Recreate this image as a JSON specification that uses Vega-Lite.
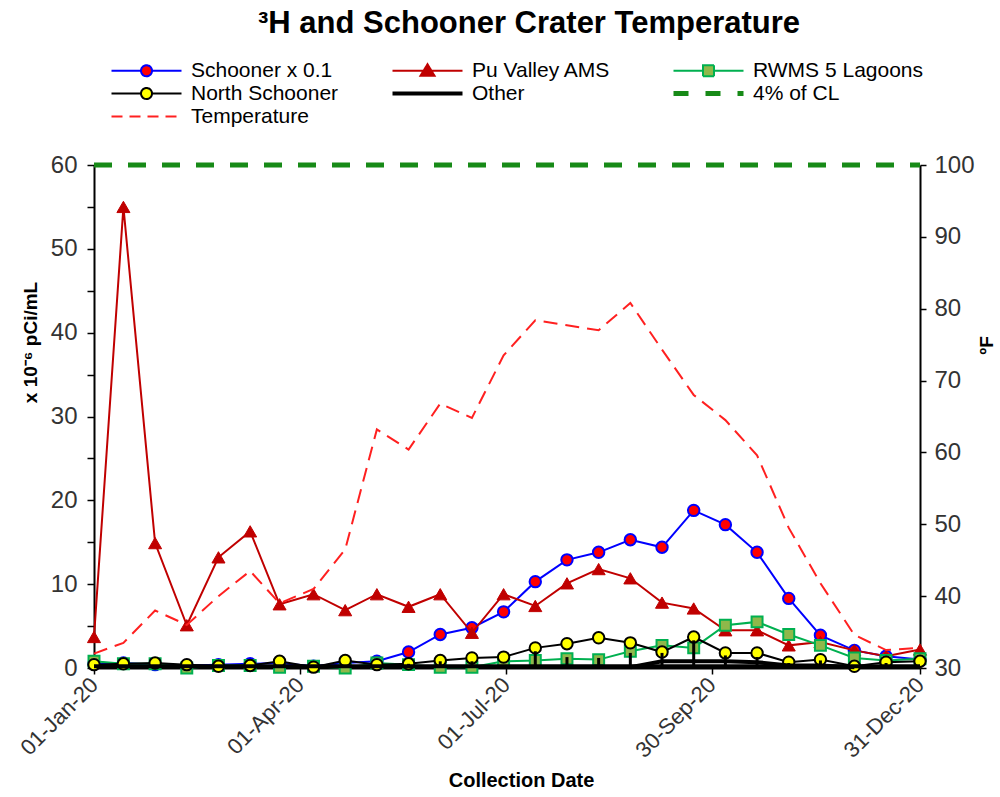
{
  "$schema": "https://vega.github.io/schema/vega-lite/v6.json",
  "width": 826,
  "height": 503,
  "autosize": "none",
  "padding": {"left": 94, "top": 165, "right": 80, "bottom": 129},
  "background": "white",
  "title": {"text": "³H and Schooner Crater Temperature", "fontSize": 31, "fontWeight": "bold", "font": "Liberation Sans", "color": "#000", "anchor": "middle", "dx": 22, "offset": 20},
  "datasets": {
    "legend": [
      {"series": "Schooner x 0.1"}, {"series": "Pu Valley AMS"}, {"series": "RWMS 5 Lagoons"}, {"series": "North Schooner"},
      {"series": "Other"}, {"series": "4% of CL"}, {"series": "Temperature"}
    ],
    "schooner": [
      {"date": "2020-01-01", "value": 0.5}, {"date": "2020-01-14", "value": 0.6}, {"date": "2020-01-28", "value": 0.4},
      {"date": "2020-02-11", "value": 0.3}, {"date": "2020-02-25", "value": 0.4}, {"date": "2020-03-10", "value": 0.5},
      {"date": "2020-03-23", "value": 0.6}, {"date": "2020-04-07", "value": 0.2}, {"date": "2020-04-21", "value": 0.6},
      {"date": "2020-05-05", "value": 0.8}, {"date": "2020-05-19", "value": 1.9}, {"date": "2020-06-02", "value": 4.0},
      {"date": "2020-06-16", "value": 4.8}, {"date": "2020-06-30", "value": 6.7}, {"date": "2020-07-14", "value": 10.3},
      {"date": "2020-07-28", "value": 12.9}, {"date": "2020-08-11", "value": 13.8}, {"date": "2020-08-25", "value": 15.3},
      {"date": "2020-09-08", "value": 14.4}, {"date": "2020-09-22", "value": 18.8}, {"date": "2020-10-06", "value": 17.1},
      {"date": "2020-10-20", "value": 13.8}, {"date": "2020-11-03", "value": 8.3}, {"date": "2020-11-17", "value": 3.9},
      {"date": "2020-12-02", "value": 2.1}, {"date": "2020-12-16", "value": 1.4}, {"date": "2020-12-31", "value": 1.0}
    ],
    "pu": [
      {"date": "2020-01-01", "value": 3.7}, {"date": "2020-01-14", "value": 55.0}, {"date": "2020-01-28", "value": 14.9},
      {"date": "2020-02-11", "value": 5.1}, {"date": "2020-02-25", "value": 13.2}, {"date": "2020-03-10", "value": 16.3},
      {"date": "2020-03-23", "value": 7.6}, {"date": "2020-04-07", "value": 8.8}, {"date": "2020-04-21", "value": 6.9},
      {"date": "2020-05-05", "value": 8.8}, {"date": "2020-05-19", "value": 7.3}, {"date": "2020-06-02", "value": 8.8},
      {"date": "2020-06-16", "value": 4.2}, {"date": "2020-06-30", "value": 8.8}, {"date": "2020-07-14", "value": 7.4},
      {"date": "2020-07-28", "value": 10.1}, {"date": "2020-08-11", "value": 11.8}, {"date": "2020-08-25", "value": 10.7},
      {"date": "2020-09-08", "value": 7.8}, {"date": "2020-09-22", "value": 7.1}, {"date": "2020-10-06", "value": 4.5},
      {"date": "2020-10-20", "value": 4.5}, {"date": "2020-11-03", "value": 2.7}, {"date": "2020-11-17", "value": 3.1},
      {"date": "2020-12-02", "value": 2.1}, {"date": "2020-12-16", "value": 1.4}, {"date": "2020-12-31", "value": 2.2}
    ],
    "rwms": [
      {"date": "2020-01-01", "value": 0.8}, {"date": "2020-01-14", "value": 0.5}, {"date": "2020-01-28", "value": 0.5},
      {"date": "2020-02-11", "value": 0.0}, {"date": "2020-02-25", "value": 0.3}, {"date": "2020-03-10", "value": 0.3},
      {"date": "2020-03-23", "value": 0.1}, {"date": "2020-04-07", "value": 0.2}, {"date": "2020-04-21", "value": 0.0},
      {"date": "2020-05-05", "value": 0.6}, {"date": "2020-05-19", "value": 0.4}, {"date": "2020-06-02", "value": 0.1},
      {"date": "2020-06-16", "value": 0.1}, {"date": "2020-06-30", "value": 0.8}, {"date": "2020-07-14", "value": 0.9},
      {"date": "2020-07-28", "value": 1.1}, {"date": "2020-08-11", "value": 1.0}, {"date": "2020-08-25", "value": 2.0},
      {"date": "2020-09-08", "value": 2.7}, {"date": "2020-09-22", "value": 2.4}, {"date": "2020-10-06", "value": 5.1},
      {"date": "2020-10-20", "value": 5.5}, {"date": "2020-11-03", "value": 4.0}, {"date": "2020-11-17", "value": 2.7},
      {"date": "2020-12-02", "value": 1.2}, {"date": "2020-12-16", "value": 0.9}, {"date": "2020-12-31", "value": 1.1}
    ],
    "north": [
      {"date": "2020-01-01", "value": 0.4}, {"date": "2020-01-14", "value": 0.5}, {"date": "2020-01-28", "value": 0.6},
      {"date": "2020-02-11", "value": 0.4}, {"date": "2020-02-25", "value": 0.2}, {"date": "2020-03-10", "value": 0.3},
      {"date": "2020-03-23", "value": 0.8}, {"date": "2020-04-07", "value": 0.1}, {"date": "2020-04-21", "value": 0.9},
      {"date": "2020-05-05", "value": 0.4}, {"date": "2020-05-19", "value": 0.5}, {"date": "2020-06-02", "value": 0.9},
      {"date": "2020-06-16", "value": 1.2}, {"date": "2020-06-30", "value": 1.3}, {"date": "2020-07-14", "value": 2.4},
      {"date": "2020-07-28", "value": 2.9}, {"date": "2020-08-11", "value": 3.6}, {"date": "2020-08-25", "value": 3.0},
      {"date": "2020-09-08", "value": 1.9}, {"date": "2020-09-22", "value": 3.7}, {"date": "2020-10-06", "value": 1.8},
      {"date": "2020-10-20", "value": 1.8}, {"date": "2020-11-03", "value": 0.7}, {"date": "2020-11-17", "value": 1.0},
      {"date": "2020-12-02", "value": 0.2}, {"date": "2020-12-16", "value": 0.7}, {"date": "2020-12-31", "value": 0.8}
    ],
    "other_base": [
      {"date": "2020-01-01", "value": 0.2}, {"date": "2020-01-14", "value": 0.2}, {"date": "2020-01-28", "value": 0.2},
      {"date": "2020-02-11", "value": 0.2}, {"date": "2020-02-25", "value": 0.2}, {"date": "2020-03-10", "value": 0.2},
      {"date": "2020-03-23", "value": 0.2}, {"date": "2020-04-07", "value": 0.2}, {"date": "2020-04-21", "value": 0.2},
      {"date": "2020-05-05", "value": 0.2}, {"date": "2020-05-19", "value": 0.2}, {"date": "2020-06-02", "value": 0.2},
      {"date": "2020-06-16", "value": 0.2}, {"date": "2020-06-30", "value": 0.2}, {"date": "2020-07-14", "value": 0.2},
      {"date": "2020-07-28", "value": 0.2}, {"date": "2020-08-11", "value": 0.2}, {"date": "2020-08-25", "value": 0.2},
      {"date": "2020-09-08", "value": 0.2}, {"date": "2020-09-22", "value": 0.2}, {"date": "2020-10-06", "value": 0.2},
      {"date": "2020-10-20", "value": 0.2}, {"date": "2020-11-03", "value": 0.2}, {"date": "2020-11-17", "value": 0.2},
      {"date": "2020-12-02", "value": 0.2}, {"date": "2020-12-16", "value": 0.2}, {"date": "2020-12-31", "value": 0.2}
    ],
    "other_late": [
      {"date": "2020-08-25", "value": 0.1}, {"date": "2020-09-08", "value": 0.8}, {"date": "2020-09-22", "value": 0.8},
      {"date": "2020-10-06", "value": 0.8}, {"date": "2020-10-20", "value": 0.7}, {"date": "2020-11-03", "value": 0.3},
      {"date": "2020-11-17", "value": 0.3}, {"date": "2020-12-02", "value": 0.1}
    ],
    "other_bars": [
      {"date": "2020-05-19", "value": 0.5}, {"date": "2020-06-02", "value": 0.8}, {"date": "2020-06-16", "value": 0.8},
      {"date": "2020-07-14", "value": 2.0}, {"date": "2020-07-28", "value": 1.3}, {"date": "2020-08-11", "value": 1.2},
      {"date": "2020-08-25", "value": 1.8}, {"date": "2020-09-08", "value": 1.8}, {"date": "2020-09-22", "value": 3.3},
      {"date": "2020-10-06", "value": 1.5}, {"date": "2020-10-20", "value": 1.3}, {"date": "2020-11-03", "value": 0.6},
      {"date": "2020-11-17", "value": 0.9}, {"date": "2020-12-16", "value": 0.6}
    ],
    "cl": [
      {"date": "2020-01-01", "value": 60}, {"date": "2020-12-31", "value": 60}
    ],
    "temp": [
      {"date": "2020-01-01", "value": 32.0}, {"date": "2020-01-14", "value": 33.5}, {"date": "2020-01-28", "value": 38.0},
      {"date": "2020-02-11", "value": 36.0}, {"date": "2020-02-25", "value": 40.0}, {"date": "2020-03-10", "value": 43.5},
      {"date": "2020-03-23", "value": 39.0}, {"date": "2020-04-07", "value": 41.0}, {"date": "2020-04-21", "value": 46.5},
      {"date": "2020-05-05", "value": 63.2}, {"date": "2020-05-19", "value": 60.4}, {"date": "2020-06-02", "value": 66.8},
      {"date": "2020-06-16", "value": 64.8}, {"date": "2020-06-30", "value": 73.5}, {"date": "2020-07-14", "value": 78.4},
      {"date": "2020-07-28", "value": 77.7}, {"date": "2020-08-11", "value": 77.0}, {"date": "2020-08-25", "value": 80.8},
      {"date": "2020-09-08", "value": 74.3}, {"date": "2020-09-22", "value": 68.0}, {"date": "2020-10-06", "value": 64.5},
      {"date": "2020-10-20", "value": 59.6}, {"date": "2020-11-03", "value": 49.5}, {"date": "2020-11-17", "value": 41.8},
      {"date": "2020-12-02", "value": 34.6}, {"date": "2020-12-16", "value": 32.5}, {"date": "2020-12-31", "value": 32.8}
    ]
  },
  "encoding": {
    "x": {
      "field": "date", "type": "temporal",
      "scale": {"type": "utc", "domain": [{"year": 2020, "month": 1, "date": 1, "utc": true}, {"year": 2020, "month": 12, "date": 31, "utc": true}]},
      "axis": {
        "title": "Collection Date",
        "values": [
          {"year": 2020, "month": 1, "date": 1, "utc": true},
          {"year": 2020, "month": 4, "date": 1, "utc": true},
          {"year": 2020, "month": 7, "date": 1, "utc": true},
          {"year": 2020, "month": 9, "date": 30, "utc": true},
          {"year": 2020, "month": 12, "date": 31, "utc": true}
        ],
        "format": "%d-%b-%y",
        "labelAngle": -45, "labelAlign": "right", "labelBaseline": "middle", "labelPadding": 7,
        "labelFontSize": 22, "tickSize": 6,
        "titleX": 427, "titleY": 112, "titleAlign": "center", "titleBaseline": "middle", "titleFontSize": 20
      }
    }
  },
  "layer": [
    {
      "encoding": {
        "y": {
          "field": "value", "type": "quantitative",
          "scale": {"domain": [0, 60], "nice": false, "zero": false},
          "axis": {
            "title": "x 10⁻⁶ pCi/mL",
            "values": [0, 5, 10, 15, 20, 25, 30, 35, 40, 45, 50, 55, 60],
            "labelExpr": "datum.value % 10 === 0 ? datum.label : ''",
            "tickSize": 7, "labelPadding": 10, "labelFontSize": 24,
            "titleX": -64, "titleY": 177, "titleAngle": 270, "titleAlign": "center", "titleBaseline": "middle"
          }
        }
      },
      "layer": [
        {
          "data": {"name": "schooner"},
          "mark": {"type": "line", "strokeWidth": 2, "color": "#0000ff"}
        },
        {
          "data": {"name": "schooner"},
          "mark": {"type": "point", "shape": "circle", "filled": true, "fill": "#ff0000", "stroke": "#0000ff", "strokeWidth": 2, "size": 130, "opacity": 1}
        },
        {
          "data": {"name": "pu"},
          "mark": {"type": "line", "strokeWidth": 2, "color": "#c00000"}
        },
        {
          "data": {"name": "pu"},
          "mark": {"type": "point", "shape": "triangle-up", "filled": true, "fill": "#c00000", "stroke": "#c00000", "strokeWidth": 1, "size": 170, "opacity": 1}
        },
        {
          "data": {"name": "rwms"},
          "mark": {"type": "line", "strokeWidth": 2, "color": "#00b050"}
        },
        {
          "data": {"name": "rwms"},
          "mark": {"type": "point", "shape": "square", "filled": true, "fill": "#8fb84a", "stroke": "#00b050", "strokeWidth": 2, "size": 120, "opacity": 1}
        },
        {
          "data": {"name": "north"},
          "mark": {"type": "line", "strokeWidth": 2, "color": "#000000"}
        },
        {
          "data": {"name": "north"},
          "mark": {"type": "point", "shape": "circle", "filled": true, "fill": "#ffff00", "stroke": "#000000", "strokeWidth": 2, "size": 130, "opacity": 1}
        },
        {
          "data": {"name": "other_base"},
          "mark": {"type": "line", "strokeWidth": 4, "color": "#000000"}
        },
        {
          "data": {"name": "other_late"},
          "mark": {"type": "line", "strokeWidth": 4, "color": "#000000"}
        },
        {
          "data": {"name": "other_bars"},
          "mark": {"type": "rule", "strokeWidth": 3, "color": "#000000"},
          "encoding": {"y2": {"datum": 0}}
        },
        {
          "data": {"name": "cl"},
          "mark": {"type": "line", "strokeWidth": 5, "strokeDash": [18, 16], "strokeCap": "butt", "color": "#178a17"}
        },
        {
          "data": {"name": "legend"},
          "mark": {"type": "point", "opacity": 0},
          "encoding": {
            "shape": {
              "field": "series", "type": "nominal",
              "scale": {
                "domain": ["Schooner x 0.1", "Pu Valley AMS", "RWMS 5 Lagoons", "North Schooner", "Other", "4% of CL", "Temperature"],
                "range": [
                  "M-1,0H4.9M7.1,0H13M4.9,0A1.1,1.1,0,1,1,7.1,0A1.1,1.1,0,1,1,4.9,0Z",
                  "M-1,0H13M6,-1.3L7.4,1L4.6,1Z",
                  "M-1,0H4.9M7.1,0H13M4.9,-1.1H7.1V1.1H4.9Z",
                  "M-1,0H4.9M7.1,0H13M4.9,0A1.1,1.1,0,1,1,7.1,0A1.1,1.1,0,1,1,4.9,0Z",
                  "M-1,0H13",
                  "M-1,0H13",
                  "M-1,0H13"
                ]
              },
              "legend": {
                "title": null, "orient": "none", "legendX": 12, "legendY": -105, "direction": "horizontal",
                "columns": 3, "gridAlign": "all", "columnPadding": 20, "rowPadding": 1, "padding": 0,
                "symbolSize": 100, "symbolOpacity": 1, "labelOffset": 64, "labelFontSize": 21, "labelFont": "Liberation Sans", "labelColor": "#000", "labelLimit": 0
              }
            },
            "fill": {
              "field": "series", "type": "nominal",
              "scale": {
                "domain": ["Schooner x 0.1", "Pu Valley AMS", "RWMS 5 Lagoons", "North Schooner", "Other", "4% of CL", "Temperature"],
                "range": ["#ff0000", "#c00000", "#8fb84a", "#ffff00", "transparent", "transparent", "transparent"]
              },
              "legend": {
                "title": null, "orient": "none", "legendX": 12, "legendY": -105, "direction": "horizontal",
                "columns": 3, "gridAlign": "all", "columnPadding": 20, "rowPadding": 1, "padding": 0,
                "symbolSize": 100, "symbolOpacity": 1, "labelOffset": 64, "labelFontSize": 21, "labelFont": "Liberation Sans", "labelColor": "#000", "labelLimit": 0
              }
            },
            "stroke": {
              "field": "series", "type": "nominal",
              "scale": {
                "domain": ["Schooner x 0.1", "Pu Valley AMS", "RWMS 5 Lagoons", "North Schooner", "Other", "4% of CL", "Temperature"],
                "range": ["#0000ff", "#c00000", "#00b050", "#000000", "#000000", "#178a17", "#ff2020"]
              },
              "legend": {
                "title": null, "orient": "none", "legendX": 12, "legendY": -105, "direction": "horizontal",
                "columns": 3, "gridAlign": "all", "columnPadding": 20, "rowPadding": 1, "padding": 0,
                "symbolSize": 100, "symbolOpacity": 1, "labelOffset": 64, "labelFontSize": 21, "labelFont": "Liberation Sans", "labelColor": "#000", "labelLimit": 0
              }
            },
            "strokeDash": {
              "field": "series", "type": "nominal",
              "scale": {
                "domain": ["Schooner x 0.1", "Pu Valley AMS", "RWMS 5 Lagoons", "North Schooner", "Other", "4% of CL", "Temperature"],
                "range": [[1, 0], [1, 0], [1, 0], [1, 0], [1, 0], [15, 17], [11, 7]]
              },
              "legend": {
                "title": null, "orient": "none", "legendX": 12, "legendY": -105, "direction": "horizontal",
                "columns": 3, "gridAlign": "all", "columnPadding": 20, "rowPadding": 1, "padding": 0,
                "symbolSize": 100, "symbolOpacity": 1, "labelOffset": 64, "labelFontSize": 21, "labelFont": "Liberation Sans", "labelColor": "#000", "labelLimit": 0
              }
            },
            "strokeWidth": {
              "field": "series", "type": "nominal",
              "scale": {
                "type": "ordinal",
                "domain": ["Schooner x 0.1", "Pu Valley AMS", "RWMS 5 Lagoons", "North Schooner", "Other", "4% of CL", "Temperature"],
                "range": [2, 2, 2, 2, 4, 5, 2]
              },
              "legend": {
                "title": null, "orient": "none", "legendX": 12, "legendY": -105, "direction": "horizontal",
                "columns": 3, "gridAlign": "all", "columnPadding": 20, "rowPadding": 1, "padding": 0,
                "symbolSize": 100, "symbolOpacity": 1, "labelOffset": 64, "labelFontSize": 21, "labelFont": "Liberation Sans", "labelColor": "#000", "labelLimit": 0
              }
            }
          }
        }
      ]
    },
    {
      "data": {"name": "temp"},
      "mark": {"type": "line", "strokeWidth": 2, "strokeDash": [14, 8], "strokeCap": "butt", "color": "#ff2020"},
      "encoding": {
        "y": {
          "field": "value", "type": "quantitative",
          "scale": {"domain": [30, 100], "nice": false, "zero": false},
          "axis": {
            "orient": "right", "title": "ºF",
            "values": [30, 40, 50, 60, 70, 80, 90, 100],
            "tickSize": 6, "labelPadding": 8, "labelFontSize": 24,
            "titleX": 66, "titleY": 180, "titleAngle": 270, "titleAlign": "center", "titleBaseline": "middle"
          }
        }
      }
    }
  ],
  "resolve": {"scale": {"y": "independent"}},
  "config": {
    "view": {"stroke": null},
    "font": "Liberation Sans",
    "axis": {
      "grid": false, "domainColor": "#000000", "domainWidth": 2, "tickColor": "#000000", "tickWidth": 1.5,
      "labelColor": "#333333", "labelFont": "Liberation Sans", "titleFont": "Liberation Sans",
      "titleFontWeight": "bold", "titleColor": "#000000", "titleFontSize": 19
    }
  }
}
